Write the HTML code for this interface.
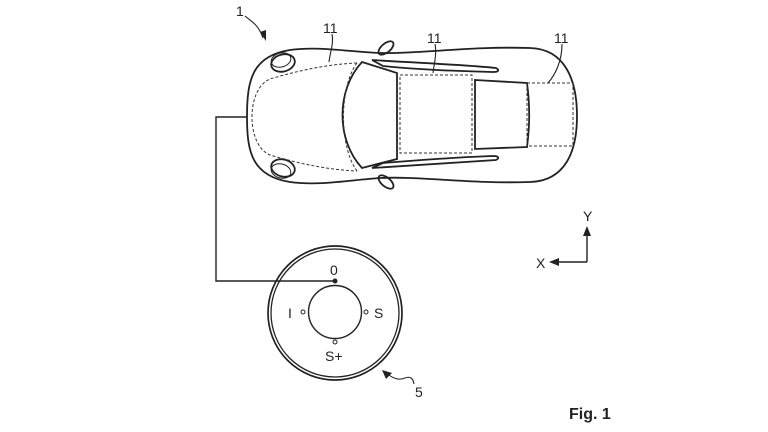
<!DOCTYPE html>
<html><head><style>
html,body{margin:0;padding:0;background:#fff;}
svg{display:block;}
text{font-family:"Liberation Sans",sans-serif;fill:#222;}
</style></head><body>
<svg width="768" height="432" viewBox="0 0 768 432" xmlns="http://www.w3.org/2000/svg">
<g fill="none" stroke="#222" stroke-width="1.8">
<path d="M247,117 C247,80 252,56 290,50 C320,46 350,52 380,53 C420,54 470,46 530,48 C565,49 577,80 577,116 C577,152 565,181 530,182 C470,184 420,176 380,178 C350,180 320,186 290,182 C252,176 247,152 247,117 Z"/>
<ellipse cx="283" cy="63" rx="12" ry="8.5" transform="rotate(-15 283 63)"/>
<ellipse cx="281" cy="60" rx="10" ry="7" transform="rotate(-15 281 60)" stroke-width="1"/>
<ellipse cx="283" cy="168" rx="12" ry="8.5" transform="rotate(15 283 168)"/>
<ellipse cx="281" cy="171" rx="10" ry="7" transform="rotate(15 281 171)" stroke-width="1"/>
<ellipse cx="386" cy="48" rx="9" ry="4.5" transform="rotate(-40 386 48)"/>
<ellipse cx="386" cy="182" rx="9" ry="4.5" transform="rotate(40 386 182)"/>
<path d="M362,62 L397,73 L397,159 L362,168 C336,140 336,90 362,62 Z"/>
<path d="M372,60 C420,63 470,65 496,68 C500,70 498,72 494,72 C460,71 420,70 383,66 Z"/>
<path d="M372,168 C420,165 470,162 496,160 C500,158 498,156 494,156 C460,157 420,160 383,163 Z"/>
<path d="M475,80 L527,83 C530,105 530,125 527,147 L475,149 Z"/>
</g>
<g fill="none" stroke="#333" stroke-width="1" stroke-dasharray="3,2">
<path d="M357,63 C330,64 300,70 270,79 C258,84 252,100 252,117 C252,134 258,150 270,155 C300,164 330,170 357,171"/>
<path d="M357,63 C340,85 338,145 357,171"/>
<rect x="400" y="75" width="72" height="78"/>
<rect x="527" y="83" width="46" height="63"/>
</g>
<g fill="none" stroke="#222" stroke-width="1.1">
<path d="M332,34 C334,44 330,52 329,62"/>
<path d="M435,44 C437,54 434,64 433,73"/>
<path d="M562,44 C562,60 556,74 548,83"/>
<path d="M245,16 C252,22 258,24 263,38"/>
</g>
<path d="M260,32 L266,41 L266,30 Z" fill="#222"/>
<text x="236" y="16" font-size="14">1</text>
<text x="323" y="33" font-size="14">11</text>
<text x="427" y="43" font-size="14">11</text>
<text x="554" y="43" font-size="14">11</text>
<polyline points="247,117 216,117 216,281 334,281" fill="none" stroke="#222" stroke-width="1.4"/>
<g fill="none" stroke="#222">
<circle cx="335" cy="313" r="67" stroke-width="1.7"/>
<circle cx="335" cy="313" r="64" stroke-width="1.3"/>
<circle cx="335" cy="312" r="26.5" stroke-width="1.4"/>
<circle cx="303" cy="312" r="2" stroke-width="1"/>
<circle cx="366" cy="312" r="2" stroke-width="1"/>
<circle cx="335" cy="342" r="2" stroke-width="1"/>
</g>
<circle cx="335" cy="281" r="2.5" fill="#222"/>
<text x="330" y="275" font-size="14">0</text>
<text x="288" y="318" font-size="14">I</text>
<text x="374" y="318" font-size="14">S</text>
<text x="325" y="361" font-size="14">S+</text>
<path d="M386,373 C395,380 400,380 405,378 C410,376 413,378 414,384" fill="none" stroke="#222" stroke-width="1.1"/>
<path d="M382,370 L392,373 L386,379 Z" fill="#222"/>
<text x="415" y="397" font-size="14">5</text>
<g stroke="#222" stroke-width="1.4" fill="none">
<line x1="587" y1="262" x2="587" y2="232"/>
<line x1="587" y1="262" x2="555" y2="262"/>
</g>
<path d="M583,236 L587,226 L591,236 Z" fill="#222"/>
<path d="M559,258 L549,262 L559,266 Z" fill="#222"/>
<text x="583" y="221" font-size="14">Y</text>
<text x="536" y="268" font-size="14">X</text>
<text x="569" y="419" font-size="16" font-weight="bold">Fig. 1</text>
</svg>
</body></html>
